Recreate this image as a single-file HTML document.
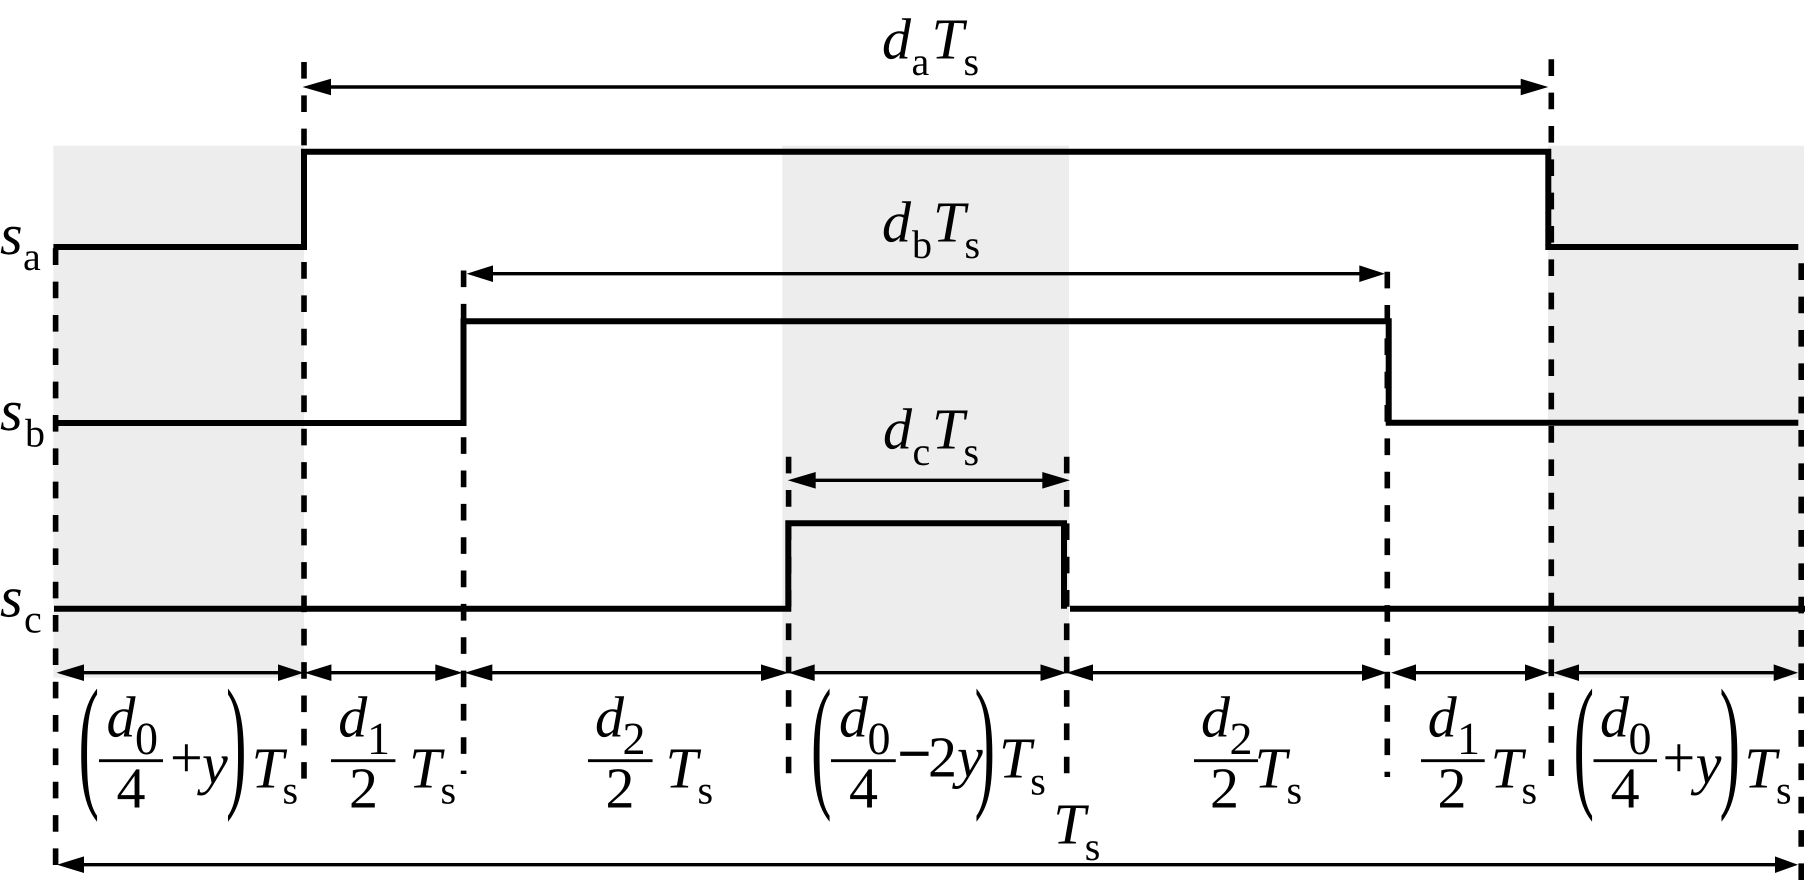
<!DOCTYPE html>
<html>
<head>
<meta charset="utf-8">
<style>
html,body{margin:0;padding:0;background:#fff;width:1805px;height:890px;overflow:hidden}
svg{display:block}
svg,text{font-family:"Liberation Serif","Times New Roman",Times,serif;fill:#000;text-rendering:geometricPrecision}
.i{font-style:italic;font-size:58px}
.n{font-size:58px}
.s{font-size:40px}
.g{font-size:46px}
.p{font-size:147px}
.dash{stroke:#000;stroke-width:5.6;stroke-dasharray:16.67 16.67;fill:none}
.sig{stroke:#000;stroke-width:6;fill:none;stroke-linejoin:miter}
.ln{stroke:#000;stroke-width:3.4;fill:none}
.bar{stroke:#000;stroke-width:2.8}
</style>
</head>
<body>
<svg width="1805" height="890" viewBox="0 0 1805 890" xmlns="http://www.w3.org/2000/svg">
<!-- shaded bands -->
<rect x="53.4" y="145.7" width="250.6" height="532" fill="#ededed"/>
<rect x="782.3" y="145.7" width="286.7" height="527.5" fill="#ededed"/>
<rect x="1548" y="145.7" width="256" height="532" fill="#ededed"/>

<!-- dashed guides -->
<line class="dash" x1="55.6" y1="248.3" x2="55.6" y2="865"/>
<line class="dash" x1="304" y1="62" x2="304" y2="778.6"/>
<line class="dash" x1="463.6" y1="270.5" x2="463.6" y2="774"/>
<line class="dash" x1="788.6" y1="456.7" x2="788.6" y2="773.3"/>
<line class="dash" x1="1066.7" y1="456.7" x2="1066.7" y2="773.3"/>
<line class="dash" x1="1387.3" y1="271.7" x2="1387.3" y2="777"/>
<line class="dash" x1="1551.3" y1="59.3" x2="1551.3" y2="776"/>
<line class="dash" x1="1801.2" y1="263.3" x2="1801.2" y2="880"/>

<!-- signals -->
<polyline class="sig" points="53.4,247 304,247 304,151.7 1548.3,151.7 1548.3,247 1798.3,247"/>
<polyline class="sig" points="55,423 463.5,423 463.5,321.3 1388.7,321.3 1388.7,422.7 1798.3,422.7"/>
<polyline class="sig" points="54,608.7 788.3,608.7 788.3,523.3 1064,523.3 1064,608.7"/>
<line class="sig" x1="1070" y1="608.7" x2="1805" y2="608.7"/>

<!-- top dimension arrows -->
<line class="ln" x1="320" y1="87" x2="1530" y2="87"/>
<polygon points="302.5,87 331,78.7 331,95.3"/>
<polygon points="1548.3,87 1520.7,78.7 1520.7,95.3"/>

<line class="ln" x1="480" y1="273.7" x2="1370" y2="273.7"/>
<polygon points="466.6,273.7 493,265.4 493,282"/>
<polygon points="1385,273.7 1359.3,265.4 1359.3,282"/>

<line class="ln" x1="800" y1="480.3" x2="1055" y2="480.3"/>
<polygon points="787.7,480.3 815.7,472 815.7,488.6"/>
<polygon points="1070,480.3 1042.3,472 1042.3,488.6"/>

<!-- bottom row arrows -->
<line class="ln" x1="70" y1="672.7" x2="290" y2="672.7"/>
<polygon points="56.5,672.7 84,664.4 84,681"/>
<polygon points="303.7,672.7 278,664.4 278,681"/>
<line class="ln" x1="318" y1="672.7" x2="450" y2="672.7"/>
<polygon points="304.5,672.7 331.4,664.4 331.4,681"/>
<polygon points="462.6,672.7 435.3,664.4 435.3,681"/>
<line class="ln" x1="478" y1="672.7" x2="775" y2="672.7"/>
<polygon points="464.6,672.7 492.3,664.4 492.3,681"/>
<polygon points="788.6,672.7 761,664.4 761,681"/>
<line class="ln" x1="802" y1="672.7" x2="1053" y2="672.7"/>
<polygon points="788.6,672.7 814.7,664.4 814.7,681"/>
<polygon points="1066.6,672.7 1040.5,664.4 1040.5,681"/>
<line class="ln" x1="1080" y1="672.7" x2="1375" y2="672.7"/>
<polygon points="1066.6,672.7 1093,664.4 1093,681"/>
<polygon points="1387,672.7 1362,664.4 1362,681"/>
<line class="ln" x1="1403" y1="672.7" x2="1537" y2="672.7"/>
<polygon points="1391,672.7 1416,664.4 1416,681"/>
<polygon points="1549,672.7 1525,664.4 1525,681"/>
<line class="ln" x1="1566" y1="672.7" x2="1786" y2="672.7"/>
<polygon points="1553,672.7 1579,664.4 1579,681"/>
<polygon points="1798,672.7 1773.7,664.4 1773.7,681"/>

<!-- long bottom arrow -->
<line class="ln" x1="70" y1="864.7" x2="1786" y2="864.7"/>
<polygon points="57,864.7 84,856.4 84,873"/>
<polygon points="1798,864.7 1775,856.4 1775,873"/>

<!-- top labels -->
<text class="i" x="882" y="58.3">d</text><text class="s" x="911.5" y="75">a</text><text class="i" x="931.5" y="58.3">T</text><text class="s" x="963.5" y="75">s</text>
<text class="i" x="882" y="241.7">d</text><text class="s" x="912" y="258">b</text><text class="i" x="933" y="241.7">T</text><text class="s" x="964.5" y="258">s</text>
<text class="i" x="883" y="448.3">d</text><text class="s" x="912.5" y="465">c</text><text class="i" x="932" y="448.3">T</text><text class="s" x="963.5" y="465">s</text>

<!-- signal labels -->
<text class="i" x="0" y="254">s</text><text class="s" x="23" y="270">a</text>
<text class="i" x="0" y="430">s</text><text class="s" x="25" y="446.7">b</text>
<text class="i" x="0" y="616.7">s</text><text class="s" x="24" y="632.3">c</text>

<!-- (d0/4 + y) Ts left -->
<text class="p" transform="translate(78.5,790.5) scale(.42,1)">(</text>
<text class="i" x="106.5" y="736.7">d</text><text class="g" x="135" y="754">0</text>
<line class="bar" x1="99" y1="760.7" x2="163" y2="760.7"/>
<text class="n" x="116.5" y="807.7">4</text>
<text class="n" x="170" y="777">+</text>
<text class="i" x="202" y="783">y</text>
<text class="p" transform="translate(226,790.5) scale(.42,1)">)</text>
<text class="i" x="251.5" y="787.7">T</text><text class="s" x="282.5" y="803.3">s</text>

<!-- d1/2 Ts left -->
<text class="i" x="338.3" y="736.7">d</text><text class="g" x="367" y="754">1</text>
<line class="bar" x1="331" y1="760.7" x2="395.4" y2="760.7"/>
<text class="n" x="349" y="807.7">2</text>
<text class="i" x="409" y="787.7">T</text><text class="s" x="440.5" y="803.3">s</text>

<!-- d2/2 Ts left -->
<text class="i" x="595" y="736.7">d</text><text class="g" x="622.5" y="754">2</text>
<line class="bar" x1="588" y1="760.7" x2="652.6" y2="760.7"/>
<text class="n" x="605.5" y="807.7">2</text>
<text class="i" x="665.5" y="787.7">T</text><text class="s" x="697.5" y="803.3">s</text>

<!-- (d0/4 - 2y) Ts -->
<text class="p" transform="translate(811,790.5) scale(.42,1)">(</text>
<text class="i" x="839" y="736.7">d</text><text class="g" x="867.5" y="754">0</text>
<line class="bar" x1="831" y1="760.7" x2="895.8" y2="760.7"/>
<text class="n" x="849" y="807.7">4</text>
<text class="n" x="898" y="773" stroke="#000" stroke-width="1.4">&#8722;</text>
<text class="n" x="928" y="776.7">2</text>
<text class="i" x="957" y="776.7">y</text>
<text class="p" transform="translate(974.5,790.5) scale(.42,1)">)</text>
<text class="i" x="999" y="777.7">T</text><text class="s" x="1030.3" y="794.3">s</text>

<!-- standalone Ts -->
<text class="i" x="1053.2" y="843.3">T</text><text class="s" x="1084.8" y="860">s</text>

<!-- d2/2 Ts right -->
<text class="i" x="1201" y="736.7">d</text><text class="g" x="1229.5" y="754">2</text>
<line class="bar" x1="1194" y1="760.7" x2="1258" y2="760.7"/>
<text class="n" x="1210" y="807.7">2</text>
<text class="i" x="1254.5" y="787.7">T</text><text class="s" x="1286.5" y="803.3">s</text>

<!-- d1/2 Ts right -->
<text class="i" x="1427.8" y="736.7">d</text><text class="g" x="1457" y="754">1</text>
<line class="bar" x1="1421" y1="760.7" x2="1484.7" y2="760.7"/>
<text class="n" x="1437.5" y="807.7">2</text>
<text class="i" x="1490.5" y="787.7">T</text><text class="s" x="1521.5" y="803.3">s</text>

<!-- (d0/4 + y) Ts right -->
<text class="p" transform="translate(1573.5,790.5) scale(.42,1)">(</text>
<text class="i" x="1600" y="736.7">d</text><text class="g" x="1628.5" y="754">0</text>
<line class="bar" x1="1593.5" y1="760.7" x2="1657" y2="760.7"/>
<text class="n" x="1610.6" y="807.7">4</text>
<text class="n" x="1662.5" y="777">+</text>
<text class="i" x="1695.6" y="783">y</text>
<text class="p" transform="translate(1719.5,790.5) scale(.42,1)">)</text>
<text class="i" x="1744.3" y="787.7">T</text><text class="s" x="1776" y="803.3">s</text>
</svg>
</body>
</html>
